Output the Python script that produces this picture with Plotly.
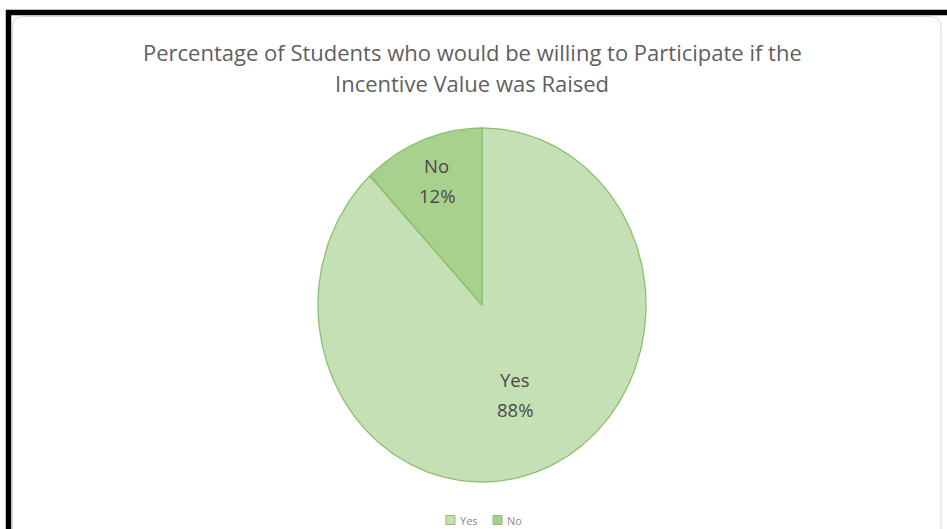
import numpy as np
import plotly.graph_objects as go

# Survey results
categories = ["Yes", "No"]
percentages = [88, 12]
slice_colors = ["#C5E0B4", "#A9D18E"]
title_lines = [
    "Percentage of Students who would be willing to Participate if the",
    "Incentive Value was Raised",
]

W, H = 947, 529
cx, cy = 482, 305          # pie centre (pixel units)
rx, ry = 164, 177          # pie radii
label_radius = [0.55, 0.75]
edge_color = "#8DBF6F"

fig = go.Figure()

total = sum(percentages)
start = 0.0
for cat, val, col, lr in zip(categories, percentages, slice_colors, label_radius):
    span = 360.0 * val / total
    theta = np.radians(np.linspace(start, start + span, 200))
    xs = np.concatenate([[cx], cx + rx * np.sin(theta), [cx]])
    ys = np.concatenate([[cy], cy - ry * np.cos(theta), [cy]])
    fig.add_trace(go.Scatter(
        x=xs, y=ys, mode="lines", fill="toself", fillcolor=col,
        line=dict(color=edge_color, width=1.3), name=cat,
        hoverinfo="name", showlegend=False,
    ))
    mid = np.radians(start + span / 2)
    lx = cx + lr * rx * np.sin(mid)
    ly = cy - lr * ry * np.cos(mid)
    for txt, shift in ((cat, 16), (f"{val}%", -14)):
        fig.add_annotation(
            x=lx, y=ly, text=txt, showarrow=False, yshift=shift,
            font=dict(family="Open Sans", size=18.5, color="#4A4A4A"),
        )
    start += span

# Legend row below the pie: square swatch + category name
leg_x0, leg_step, leg_y = 446, 47, 520
for i, (cat, col) in enumerate(zip(categories, slice_colors)):
    sx = leg_x0 + i * leg_step
    fig.add_shape(type="rect", x0=sx, x1=sx + 9, y0=leg_y - 4.5, y1=leg_y + 4.5,
                  fillcolor=col, line=dict(color=edge_color, width=1))
    fig.add_annotation(
        x=sx + 12, y=leg_y, text=cat, showarrow=False, xanchor="left",
        font=dict(family="Open Sans", size=11, color="#8A8A8A"),
    )

# Title
for i, line in enumerate(title_lines):
    fig.add_annotation(
        x=472, y=52 + 31 * i, text=line, showarrow=False,
        font=dict(family="Open Sans", size=22, color="#5F5F5F"),
    )

# Outer black frame and inner rounded chart border
fig.add_shape(type="rect", x0=8.5, y0=12.5, x1=990, y1=620,
              line=dict(color="black", width=5.5), layer="above")
r = 11
x0, y0, x1, y1 = 12.5, 16.5, 941, 560
fig.add_shape(
    type="path",
    path=(f"M {x0+r},{y0} L {x1-r},{y0} Q {x1},{y0} {x1},{y0+r} "
          f"L {x1},{y1} L {x0},{y1} L {x0},{y0+r} Q {x0},{y0} {x0+r},{y0} Z"),
    line=dict(color="#D9D9D9", width=1), layer="above",
)

fig.update_layout(
    width=W, height=H,
    margin=dict(l=0, r=0, t=0, b=0),
    paper_bgcolor="white", plot_bgcolor="white",
    xaxis=dict(range=[0, W], visible=False, fixedrange=True),
    yaxis=dict(range=[H, 0], visible=False, fixedrange=True),
    showlegend=False,
)

fig.write_html("out.html")
